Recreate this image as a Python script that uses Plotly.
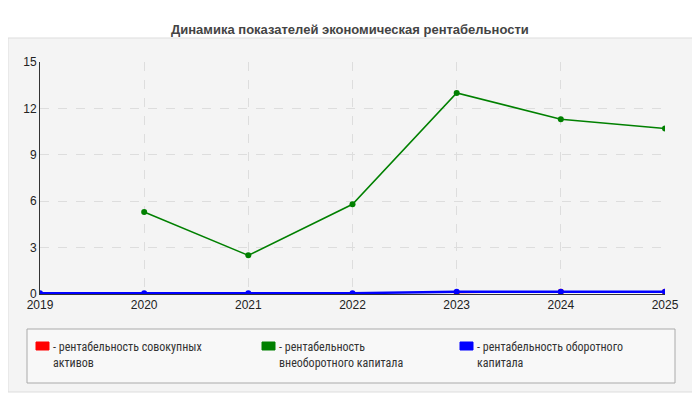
import plotly.graph_objects as go

years = [2019, 2020, 2021, 2022, 2023, 2024, 2025]
rent_total = [None, None, None, None, 0.1, 0.15, 0.15]
rent_fixed = [None, 5.3, 2.5, 5.8, 13.0, 11.3, 10.7]
rent_current = [0.05, 0.05, 0.05, 0.05, 0.15, 0.15, 0.15]

names = ['- рентабельность совокупных<br>активов',
         '- рентабельность<br>внеоборотного капитала',
         '- рентабельность оборотного<br>капитала']
colors = ['red', 'green', 'blue']

OFF = 8  # page body margin
W, H = 700 - OFF, 400 - OFF
L, R, T, B = 40 - OFF, 35, 62 - OFF, 106
pw, ph = W - L - R, H - T - B


def px(x):
    return (x - OFF - L) / pw


def py(y):
    return (H - B - (y - OFF)) / ph


fig = go.Figure()
for vals, c in zip([rent_total, rent_fixed, rent_current], colors):
    fig.add_trace(go.Scatter(x=years, y=vals, mode='lines+markers',
                             line=dict(color=c, width=1.5 if c != 'blue' else 2.5),
                             marker=dict(color=c, size=6), showlegend=False))

shapes = [
    dict(type='rect', xref='paper', yref='paper', x0=px(8), x1=px(696), y0=py(392), y1=py(38),
         fillcolor='#f4f4f4', line=dict(color='#dddddd', width=1), layer='below'),
    dict(type='rect', xref='paper', yref='paper', x0=px(27), x1=px(675), y0=py(383), y1=py(329),
         fillcolor='#f8f8f8', line=dict(color='#aaaaaa', width=1), layer='below'),
]
annotations = [dict(text='<b>Динамика показателей экономическая рентабельности</b>',
                    xref='paper', yref='paper', x=px(350), y=py(20), showarrow=False,
                    font=dict(size=13, color='#444'))]
for i, (n, c, sx) in enumerate(zip(names, colors, [36, 262, 460])):
    shapes.append(dict(type='rect', xref='paper', yref='paper', x0=px(sx), x1=px(sx + 13),
                       y0=py(350), y1=py(342), fillcolor=c, line=dict(color=c, width=1)))
    annotations.append(dict(text=n, xref='paper', yref='paper', x=px(sx + 15), y=py(338),
                            xanchor='left', yanchor='top', align='left', showarrow=False,
                            font=dict(size=12, color='#333', family='Liberation Sans Narrow, Roboto Condensed, Liberation Sans')))

fig.update_layout(
    width=W, height=H, margin=dict(l=L, r=R, t=T, b=B),
    paper_bgcolor='white', plot_bgcolor='#fdfdf6',
    font=dict(family='Liberation Sans, Arial', color='#222'),
    shapes=shapes, annotations=annotations,
    xaxis=dict(range=[2019, 2025], tickvals=years, showgrid=True, gridcolor='#dddddd',
               griddash='dash', zeroline=False, showline=True, linecolor='#333',
               tickfont=dict(size=12)),
    yaxis=dict(range=[0, 15], tickvals=[0, 3, 6, 9, 12, 15], showgrid=True,
               gridcolor='#dddddd', griddash='dash', zeroline=False, showline=True,
               linecolor='#333', tickfont=dict(size=12)),
)
fig.write_html("out.html")
